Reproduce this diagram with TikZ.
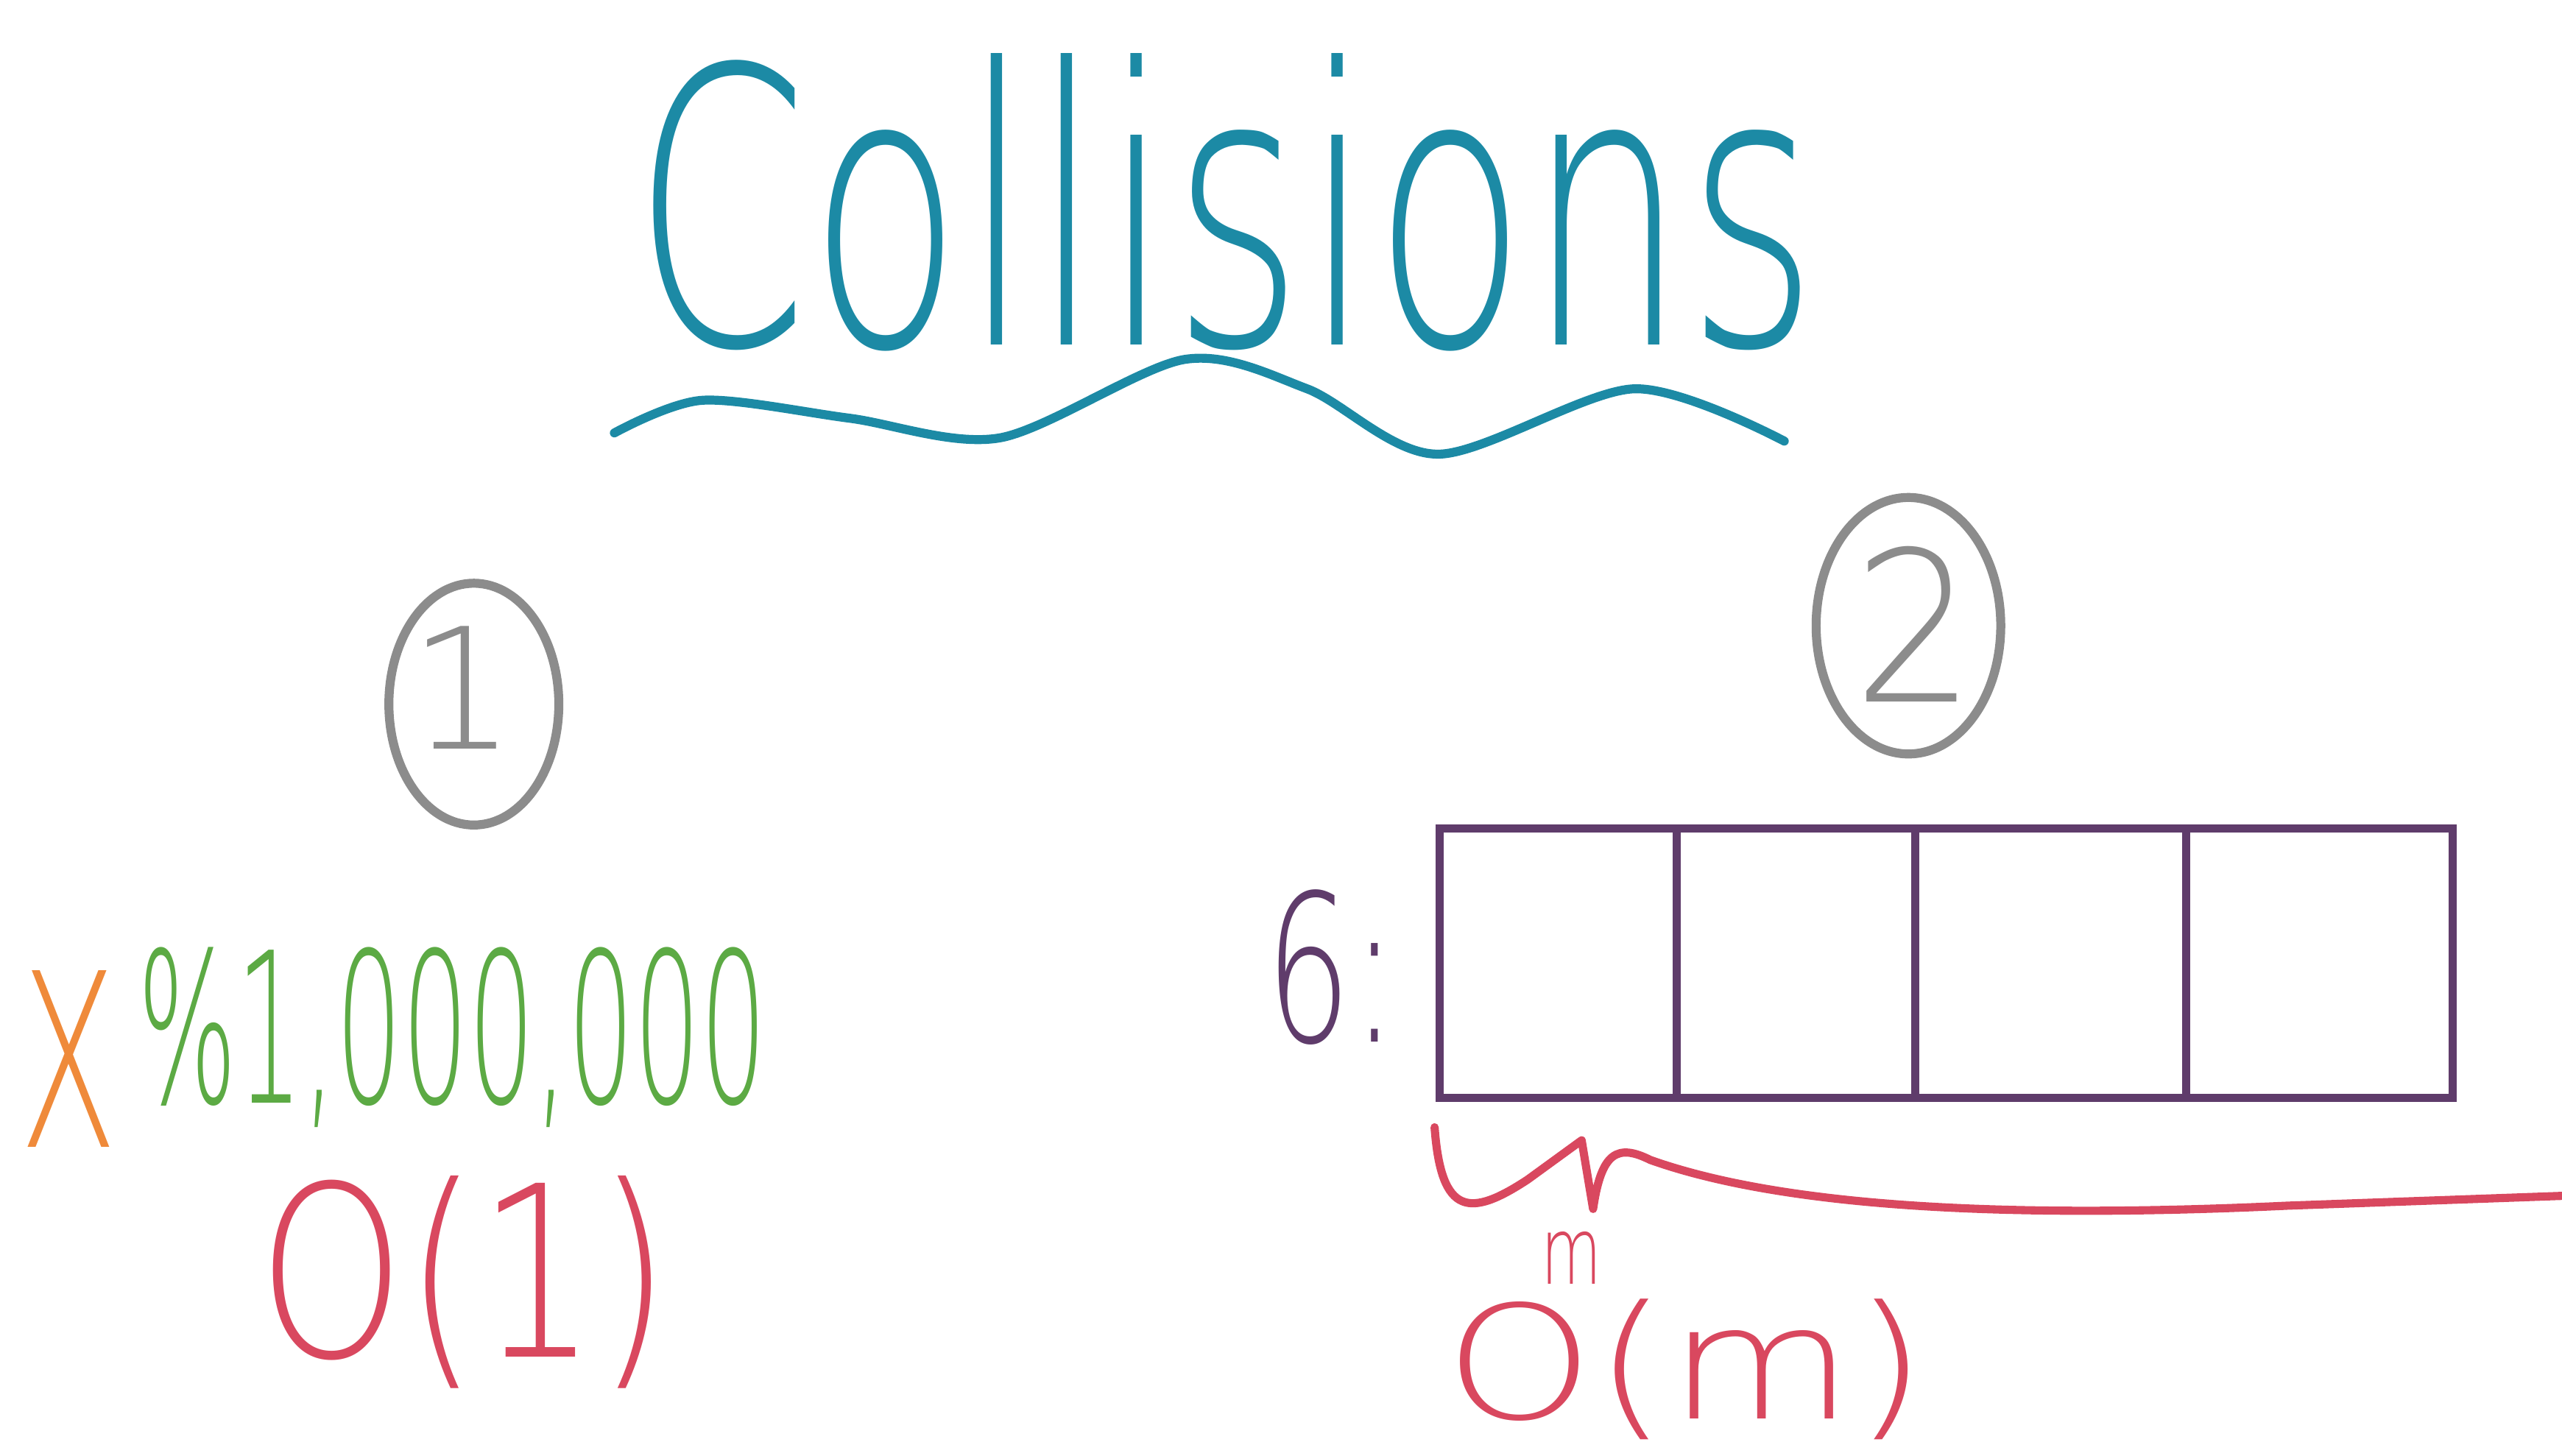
\documentclass[tikz,border=0pt]{standalone}
\usepackage{fontspec}
\usepackage{graphicx}
\usepackage{tikz}
\usetikzlibrary{positioning,shapes.geometric}
\IfFontExistsTF{DejaVu Sans ExtraLight}
  {\newfontfamily\handfont{DejaVu Sans ExtraLight}}
  {\newfontfamily\handfont{Fira Sans}}
\definecolor{tealx}{HTML}{1C8AA5}
\definecolor{greyx}{HTML}{8C8C8C}
\definecolor{orangex}{HTML}{EF8A3A}
\definecolor{greenx}{HTML}{5CAA44}
\definecolor{redx}{HTML}{D9485F}
\definecolor{purplex}{HTML}{5F3C6B}
\tikzset{
  ink/.style={inner sep=0pt,outer sep=0pt,font=\handfont},
  ring/.style={ellipse,draw=greyx,line width=5.5mm,inner sep=0pt},
  cell/.style={rectangle,draw=purplex,line width=5mm,inner sep=0pt,outer sep=0pt,minimum height=165mm},
  pen/.style={line width=5.5mm,line cap=round,line join=round}
}

\begin{document}
\begin{tikzpicture}[x=1mm,y=-1mm]
\useasboundingbox (0,0) rectangle (1568,891);
\clip (0,0) rectangle (1568,891);
% title
\node[ink,text=tealx] (title) at (750,124) {\resizebox*{724mm}{182mm}{Collisions}};
\draw[pen,tealx] plot[smooth] coordinates {(376,265) (430,245) (520,256) (612,268) (725,220) (800,238) (880,278) (1000,238) (1092,270)};
% way 1
\node[ring,minimum width=104mm,minimum height=148mm] (ring1) at (290,431) {};
\node[ink,text=greyx] (d1) at (283,421) {\resizebox*{!}{75mm}{1}};
\node[ink,text=orangex] (xvar) at (42,648) {\resizebox*{60mm}{108mm}{X}};
\node[ink,text=greenx] (modn) at (277,635) {\resizebox*{385mm}{110mm}{\%1,000,000}};
\node[ink,text=redx] (o1) at (284,785) {\resizebox*{252mm}{130mm}{O(1)}};
% way 2
\node[ring,minimum width=113mm,minimum height=157mm] (ring2) at (1168,383) {};
\node[ink,text=greyx] (d2) at (1172,382) {\resizebox*{75mm}{95mm}{2}};
\node[ink,text=purplex] (six) at (815,592) {\resizebox*{80mm}{95mm}{6:}};
\node[cell,minimum width=145mm,anchor=north west] (c1) at (881,507) {};
\node[cell,minimum width=146mm,right=0pt of c1] (c2) {};
\node[cell,minimum width=166mm,right=0pt of c2] (c3) {};
\node[cell,minimum width=163mm,right=0pt of c3] (c4) {};
\draw[pen,redx,line width=5mm] (878,690) .. controls (882,745) and (900,745) .. (935,722) -- (968,698) -- (975,740) .. controls (980,705) and (990,700) .. (1010,710) .. controls (1100,742) and (1250,745) .. (1400,738) -- (1568,732);
\node[ink,text=redx] (msmall) at (962,770) {\resizebox*{37mm}{32mm}{m}};
\node[ink,text=redx] (om) at (1032,838) {\resizebox*{295mm}{86mm}{O(m)}};
\end{tikzpicture}
\end{document}
